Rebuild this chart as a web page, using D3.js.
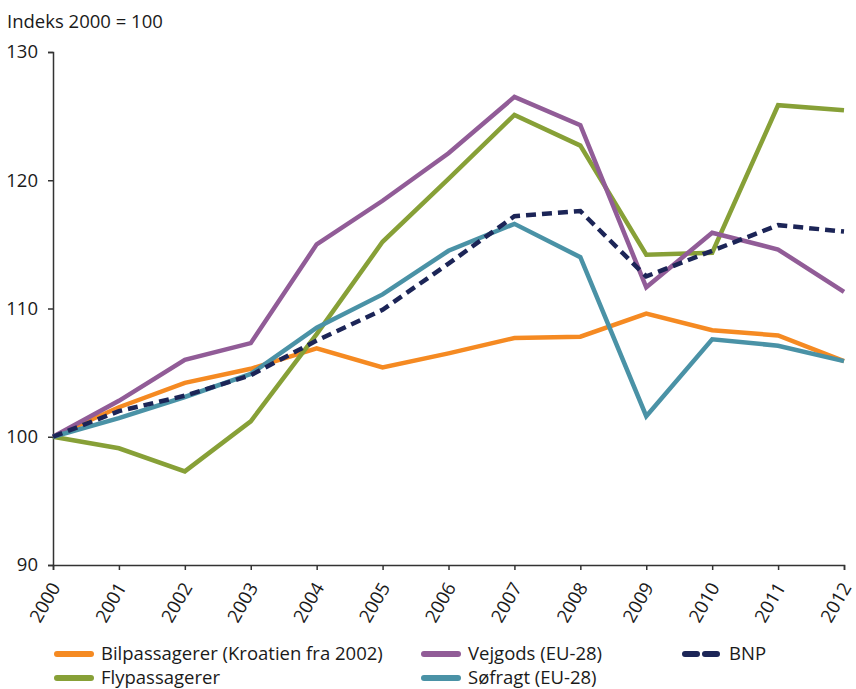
<!DOCTYPE html>
<html>
<head>
<meta charset="utf-8">
<script src="https://cdn.jsdelivr.net/npm/d3@7"></script>
<style>
  body { margin: 0; background: #fff; }
  svg text { font-family: "Open Sans", sans-serif; fill: #1a1a1a; }
</style>
</head>
<body>
<div id="chart"></div>
<script>
// data (index 2000 = 100)
var years = [2000, 2001, 2002, 2003, 2004, 2005, 2006, 2007, 2008, 2009, 2010, 2011, 2012];
var bilpassagerer = [100, 102.3, 104.2, 105.3, 106.9, 105.4, 106.5, 107.7, 107.8, 109.6, 108.3, 107.9, 105.9];
var flypassagerer = [100, 99.1, 97.3, 101.2, 108.0, 115.2, 120.1, 125.1, 122.7, 114.2, 114.35, 125.85, 125.45];
var vejgods = [100, 102.8, 106.0, 107.3, 115.0, 118.4, 122.1, 126.5, 124.3, 111.65, 115.9, 114.6, 111.3];
var sofragt = [100, 101.45, 103.1, 104.9, 108.5, 111.1, 114.5, 116.6, 114.0, 101.6, 107.6, 107.1, 105.9];
var bnp = [100, 102.0, 103.2, 104.8, 107.5, 109.9, 113.5, 117.2, 117.6, 112.5, 114.5, 116.5, 116.0];
var yTicks = [90, 100, 110, 120, 130];

var series = [
  {name: "Bilpassagerer (Kroatien fra 2002)", values: bilpassagerer, color: "#f58a22", dash: null},
  {name: "Flypassagerer", values: flypassagerer, color: "#87a037", dash: null},
  {name: "Vejgods (EU-28)", values: vejgods, color: "#915c97", dash: null},
  {name: "Søfragt (EU-28)", values: sofragt, color: "#4a92a6", dash: null},
  {name: "BNP", values: bnp, color: "#1c2557", dash: "10,6"}
];

var width = 856, height = 689;
var fs = "18.5px";
var svg = d3.select("#chart").append("svg")
    .attr("width", width)
    .attr("height", height);

var x = d3.scaleLinear().domain([2000, 2012]).range([53, 844]);
var y = d3.scaleLinear().domain([90, 130]).range([565, 52]);

svg.append("text")
    .attr("x", 7).attr("y", 28)
    .style("font-size", fs)
    .text("Indeks 2000 = 100");

// y axis
var yAxis = svg.append("g")
    .attr("transform", "translate(53,0)")
    .call(d3.axisLeft(y).tickValues(yTicks).tickSize(5).tickPadding(10));
yAxis.selectAll("text").style("font-size", fs);

// x axis
var xAxis = svg.append("g")
    .attr("transform", "translate(0,565)")
    .call(d3.axisBottom(x).tickValues(years).tickFormat(d3.format("d")).tickSize(5));
xAxis.selectAll("text")
    .style("font-size", fs)
    .attr("text-anchor", "end")
    .attr("dy", "0.35em")
    .attr("transform", "translate(2,19) rotate(-60)")
    .attr("x", 0).attr("y", 0);

svg.selectAll(".domain, .tick line")
    .attr("stroke", "#333")
    .attr("stroke-width", 1.5);

var line = d3.line()
    .x(function (d, i) { return x(years[i]); })
    .y(function (d) { return y(d); });

svg.selectAll(".series")
    .data(series)
    .enter().append("path")
    .attr("class", "series")
    .attr("d", function (d) { return line(d.values); })
    .attr("fill", "none")
    .attr("stroke", function (d) { return d.color; })
    .attr("stroke-width", 4.5)
    .attr("stroke-linejoin", "miter")
    .attr("stroke-dasharray", function (d) { return d.dash; });

// legend
var legendPos = [
  {s: 0, x: 55, y: 654},
  {s: 2, x: 422, y: 654},
  {s: 4, x: 683, y: 654},
  {s: 1, x: 55, y: 678},
  {s: 3, x: 422, y: 678}
];
var leg = svg.selectAll(".leg")
    .data(legendPos)
    .enter().append("g")
    .attr("transform", function (d) { return "translate(" + d.x + "," + d.y + ")"; });

leg.append("line")
    .attr("x1", 2).attr("x2", 36)
    .attr("stroke", function (d) { return series[d.s].color; })
    .attr("stroke-width", 6)
    .attr("stroke-linecap", "round")
    .attr("stroke-dasharray", function (d) { return series[d.s].dash ? "12,8" : null; });

leg.append("text")
    .attr("x", 46).attr("dy", "0.35em")
    .style("font-size", fs)
    .text(function (d) { return series[d.s].name; });
</script>
</body>
</html>
